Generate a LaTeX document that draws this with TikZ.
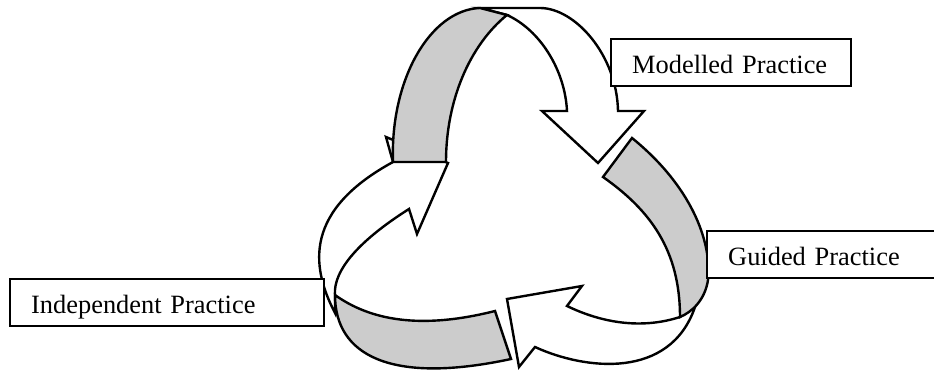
\documentclass[tikz,border=0pt]{standalone}
\usepackage{fontspec}
\setmainfont{Liberation Serif}
\usepackage{tikz}
\definecolor{ribbongray}{RGB}{204,204,204}

\begin{document}
\begin{tikzpicture}[x=0.5pt, y=-0.5pt, line width=1.2pt,
        font=\fontsize{13.2}{16}\selectfont,
        front/.style={draw=black, fill=white},
        back/.style={draw=black, fill=ribbongray},
        stagebox/.style={rectangle, draw=black, fill=white, anchor=north west,
                     align=left, inner xsep=10.5pt, inner ysep=0pt,
                     text height=17.4pt, text depth=6.1pt}
    ]
    \clip (0,0) rectangle (934,373);
    % lower left ribbon, head pointing up to the right
    \path[front] (335,313) .. controls (310,265) and (305,210) .. (393,162)
        -- (386,137) -- (448,163) -- (417,234) -- (409,209)
        .. controls (360,240) and (333,270) .. (335,295) -- cycle;
    \path[back] (495,311) .. controls (420,330) and (370,320) .. (335,295)
        .. controls (335,355) and (390,385) .. (511,359) -- cycle;
    % right ribbon, head pointing to the left
    \path[front] (695,307) .. controls (670,380) and (585,370) .. (535,347)
        -- (519,367) -- (507,299) -- (582,286) -- (567,306)
        .. controls (600,322) and (640,330) .. (680,317) -- cycle;
    \path[back] (632,138) .. controls (690,185) and (712,240) .. (708,280)
        .. controls (705,300) and (692,312) .. (680,317)
        .. controls (680,250) and (650,210) .. (603,177) -- cycle;
    % top ribbon, head pointing down to the right
    \path[front] (480,8) -- (540,8) .. controls (575,8) and (617,55) .. (618,111)
        -- (644,111) -- (598,163) -- (542,111) -- (567,111)
        .. controls (565,70) and (540,30) .. (507,15) -- cycle;
    \path[back] (393,162) .. controls (390,80) and (430,10) .. (480,8)
        -- (507,15) .. controls (470,45) and (446,100) .. (446,162) -- cycle;

    \node[stagebox, text width=99pt] (modelled) at (610,38) {Modelled Practice};
    \node[stagebox, text width=110pt] (guided) at (706,230) {Guided Practice};
    \node[stagebox, text width=136pt] (independent) at (9,278) {Independent Practice};
\end{tikzpicture}
\end{document}
